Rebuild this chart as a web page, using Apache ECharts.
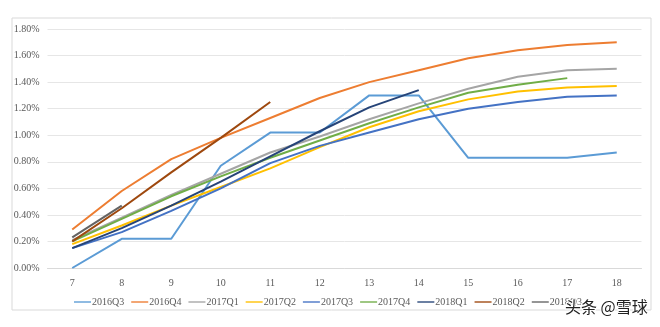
<!DOCTYPE html>
<html>
<head>
<meta charset="utf-8">
<script src="https://cdn.jsdelivr.net/npm/echarts@6/dist/echarts.min.js"></script>
<style>html,body{margin:0;padding:0;background:#fff;}#c{width:660px;height:327px;}</style>
</head>
<body>
<div id="c"></div>
<script>
const categories = ['7','8','9','10','11','12','13','14','15','16','17','18'];
const s2016Q3 = [0.00,0.22,0.22,0.77,1.02,1.02,1.30,1.30,0.83,0.83,0.83,0.87];
const s2016Q4 = [0.29,0.58,0.82,0.98,1.13,1.28,1.40,1.49,1.58,1.64,1.68,1.70];
const s2017Q1 = [0.21,0.38,0.55,0.71,0.87,0.99,1.12,1.24,1.35,1.44,1.49,1.50];
const s2017Q2 = [0.18,0.32,0.47,0.61,0.75,0.91,1.06,1.18,1.27,1.33,1.36,1.37];
const s2017Q3 = [0.15,0.27,0.43,0.60,0.79,0.92,1.02,1.12,1.20,1.25,1.29,1.30];
const s2017Q4 = [0.20,0.37,0.54,0.69,0.83,0.96,1.09,1.21,1.32,1.38,1.43];
const s2018Q1 = [0.15,0.30,0.47,0.65,0.84,1.03,1.21,1.34];
const s2018Q2 = [0.20,0.45,0.72,0.98,1.25];
const s2018Q3 = [0.23,0.47];
const yTicks = [0,0.2,0.4,0.6,0.8,1.0,1.2,1.4,1.6,1.8];

const seriesDefs = [
  ['2016Q3', s2016Q3, '#5b9bd5'],
  ['2016Q4', s2016Q4, '#ed7d31'],
  ['2017Q1', s2017Q1, '#a5a5a5'],
  ['2017Q2', s2017Q2, '#ffc000'],
  ['2017Q3', s2017Q3, '#4472c4'],
  ['2017Q4', s2017Q4, '#70ad47'],
  ['2018Q1', s2018Q1, '#264478'],
  ['2018Q2', s2018Q2, '#9e480e'],
  ['2018Q3', s2018Q3, '#636363']
];

const chart = echarts.init(document.getElementById('c'), null, {renderer:'canvas'});
const font = 'Liberation Serif';
chart.setOption({
  animation: false,
  backgroundColor: '#fff',
  color: seriesDefs.map(d => d[2]),
  grid: {left: 47.5, right: 18.5, top: 29, bottom: 59, containLabel: false},
  legend: {
    left: 69, top: 292, itemWidth: 17, itemHeight: 10, itemGap: 7,
    icon: 'path://M0,4.2L20,4.2L20,5.8L0,5.8Z',
    textStyle: {fontFamily: font, fontSize: 10, color: '#595959', padding:[0,0,0,-4]},
    data: seriesDefs.map(d => d[0])
  },
  xAxis: {
    type: 'category', data: categories, boundaryGap: true,
    axisLine: {lineStyle: {color: '#d9d9d9'}},
    axisTick: {show: false},
    axisLabel: {fontFamily: font, fontSize: 10, color: '#595959', margin: 10}
  },
  yAxis: {
    type: 'value', min: yTicks[0], max: yTicks[yTicks.length-1], interval: 0.2,
    axisLine: {show: false}, axisTick: {show: false},
    splitLine: {lineStyle: {color: '#e6e6e6', width: 1}},
    axisLabel: {fontFamily: font, fontSize: 10, color: '#595959', margin: 8,
      formatter: v => v.toFixed(2) + '%'}
  },
  series: seriesDefs.map(d => ({
    name: d[0], type: 'line', data: d[1], showSymbol: false, symbol: 'none',
    lineStyle: {width: 2, color: d[2]}, itemStyle: {color: d[2]}
  })),
  graphic: [
    {type: 'rect', shape: {x: 12, y: 18, width: 639, height: 292},
     style: {fill: 'none', stroke: '#d9d9d9', lineWidth: 1}, silent: true, z: -1},
    {type: 'text', left: 564, top: 298, z: 100,
     style: {text: '头条 @雪球', font: '16px "Noto Sans CJK SC"', fill: '#222',
       stroke: '#fff', lineWidth: 2}}
  ]
});
</script>
</body>
</html>
